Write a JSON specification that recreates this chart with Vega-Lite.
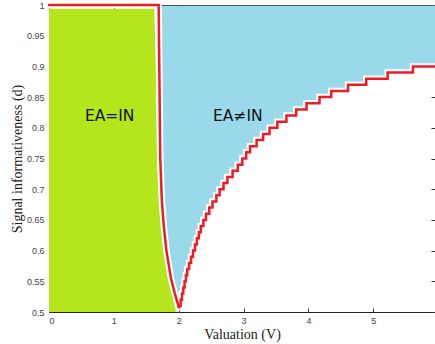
{
  "$schema": "https://vega.github.io/schema/vega-lite/v6.json",
  "width": 386,
  "height": 307,
  "autosize": {"type": "none"},
  "padding": {"left": 49, "top": 5, "right": 0, "bottom": 32},
  "config": {
    "view": {"stroke": "#222", "strokeWidth": 1},
    "axis": {
      "domain": false,
      "grid": false,
      "tickColor": "#333",
      "tickSize": -4,
      "tickWidth": 1,
      "labelFont": "Liberation Sans",
      "labelFontSize": 9,
      "labelColor": "#444",
      "titleFont": "Liberation Serif",
      "titleFontSize": 14,
      "titleFontWeight": "normal",
      "titleColor": "#222",
      "zindex": 1
    }
  },
  "datasets": {
    "left": [
      {"x": 0, "y": 1},
      {"x": 1.69, "y": 1},
      {"x": 1.70, "y": 0.9},
      {"x": 1.715, "y": 0.75},
      {"x": 1.74, "y": 0.68},
      {"x": 1.77, "y": 0.64},
      {"x": 1.81, "y": 0.60},
      {"x": 1.88, "y": 0.555},
      {"x": 1.94, "y": 0.53},
      {"x": 2.0, "y": 0.508}
    ],
    "right": [
      {"x": 2.0, "y": 0.508},
      {"x": 2.01, "y": 0.51},
      {"x": 2.03, "y": 0.52},
      {"x": 2.05, "y": 0.53},
      {"x": 2.07, "y": 0.54},
      {"x": 2.09, "y": 0.55},
      {"x": 2.11, "y": 0.56},
      {"x": 2.13, "y": 0.57},
      {"x": 2.16, "y": 0.58},
      {"x": 2.19, "y": 0.59},
      {"x": 2.22, "y": 0.60},
      {"x": 2.25, "y": 0.61},
      {"x": 2.28, "y": 0.62},
      {"x": 2.31, "y": 0.63},
      {"x": 2.34, "y": 0.64},
      {"x": 2.38, "y": 0.65},
      {"x": 2.42, "y": 0.66},
      {"x": 2.47, "y": 0.67},
      {"x": 2.52, "y": 0.68},
      {"x": 2.58, "y": 0.69},
      {"x": 2.63, "y": 0.70},
      {"x": 2.69, "y": 0.71},
      {"x": 2.75, "y": 0.72},
      {"x": 2.83, "y": 0.73},
      {"x": 2.91, "y": 0.74},
      {"x": 2.98, "y": 0.75},
      {"x": 3.04, "y": 0.76},
      {"x": 3.10, "y": 0.77},
      {"x": 3.20, "y": 0.78},
      {"x": 3.30, "y": 0.79},
      {"x": 3.40, "y": 0.80},
      {"x": 3.52, "y": 0.81},
      {"x": 3.66, "y": 0.82},
      {"x": 3.81, "y": 0.83},
      {"x": 3.97, "y": 0.84},
      {"x": 4.17, "y": 0.85},
      {"x": 4.35, "y": 0.86},
      {"x": 4.61, "y": 0.87},
      {"x": 4.89, "y": 0.88},
      {"x": 5.22, "y": 0.89},
      {"x": 5.61, "y": 0.90},
      {"x": 5.95, "y": 0.90}
    ],
    "green": [
      {"gy": 0.5, "gx": 1.96},
      {"gy": 0.53, "gx": 1.90},
      {"gy": 0.555, "gx": 1.84},
      {"gy": 0.6, "gx": 1.77},
      {"gy": 0.64, "gx": 1.73},
      {"gy": 0.68, "gx": 1.70},
      {"gy": 0.75, "gx": 1.665},
      {"gy": 0.9, "gx": 1.645},
      {"gy": 0.994, "gx": 1.625}
    ],
    "labels": [
      {"lx": 0.935, "ly": 0.82, "text": "EA=IN"},
      {"lx": 2.91, "ly": 0.82, "text": "EA≠IN"}
    ]
  },
  "resolve": {"axis": {"x": "independent", "y": "independent"}},
  "layer": [
    {
      "data": {"name": "green"},
      "mark": {"type": "area", "orient": "horizontal", "color": "#B5E61D"},
      "encoding": {
        "y": {"field": "gy", "type": "quantitative", "scale": {"domain": [0.5, 1], "nice": false, "zero": false},
              "axis": {"orient": "left", "values": [0.5, 0.55, 0.6, 0.65, 0.7, 0.75, 0.8, 0.85, 0.9, 0.95, 1], "format": "~g", "title": "Signal informativeness (d)", "labelPadding": 9, "titlePadding": 2}},
        "x": {"field": "gx", "type": "quantitative", "scale": {"domain": [0, 5.95], "nice": false, "zero": false},
              "axis": {"orient": "bottom", "values": [0, 1, 2, 3, 4, 5], "format": "d", "title": "Valuation (V)", "labelPadding": 8, "titlePadding": 2}},
        "x2": {"datum": 0}
      }
    },
    {
      "data": {"name": "left"},
      "mark": {"type": "area", "interpolate": "linear", "color": "#99D9EA", "stroke": "#99D9EA", "strokeWidth": 1},
      "encoding": {
        "x": {"field": "x", "type": "quantitative", "axis": null},
        "y": {"field": "y", "type": "quantitative", "axis": null},
        "y2": {"datum": 0.998}
      }
    },
    {
      "data": {"name": "right"},
      "mark": {"type": "area", "interpolate": "step-after", "color": "#99D9EA", "stroke": "#99D9EA", "strokeWidth": 1},
      "encoding": {
        "x": {"field": "x", "type": "quantitative", "axis": null},
        "y": {"field": "y", "type": "quantitative", "axis": null},
        "y2": {"datum": 0.998}
      }
    },
    {
      "data": {"name": "left"},
      "mark": {"type": "line", "interpolate": "linear", "color": "white", "strokeWidth": 6.5, "strokeCap": "round"},
      "encoding": {
        "x": {"field": "x", "type": "quantitative", "axis": null},
        "y": {"field": "y", "type": "quantitative", "axis": null}
      }
    },
    {
      "data": {"name": "right"},
      "mark": {"type": "line", "interpolate": "step-after", "color": "white", "strokeWidth": 6.5, "strokeCap": "round"},
      "encoding": {
        "x": {"field": "x", "type": "quantitative", "axis": null},
        "y": {"field": "y", "type": "quantitative", "axis": null}
      }
    },
    {
      "data": {"name": "left"},
      "mark": {"type": "line", "interpolate": "linear", "color": "#ED1C24", "strokeWidth": 2.5, "strokeCap": "round"},
      "encoding": {
        "x": {"field": "x", "type": "quantitative",
              "axis": {"orient": "top", "values": [0, 1, 2, 3, 4, 5], "labels": false, "title": null}},
        "y": {"field": "y", "type": "quantitative",
              "axis": {"orient": "right", "values": [0.5, 0.55, 0.6, 0.65, 0.7, 0.75, 0.8, 0.85, 0.9, 0.95, 1], "labels": false, "title": null}}
      }
    },
    {
      "data": {"name": "right"},
      "mark": {"type": "line", "interpolate": "step-after", "color": "#ED1C24", "strokeWidth": 2.5, "strokeCap": "round"},
      "encoding": {
        "x": {"field": "x", "type": "quantitative", "axis": null},
        "y": {"field": "y", "type": "quantitative", "axis": null}
      }
    },
    {
      "data": {"name": "labels"},
      "mark": {"type": "text", "font": "DejaVu Sans", "fontSize": 15.5, "color": "#111", "align": "center", "baseline": "middle"},
      "encoding": {
        "x": {"field": "lx", "type": "quantitative", "axis": null},
        "y": {"field": "ly", "type": "quantitative", "axis": null},
        "text": {"field": "text"}
      }
    }
  ]
}
